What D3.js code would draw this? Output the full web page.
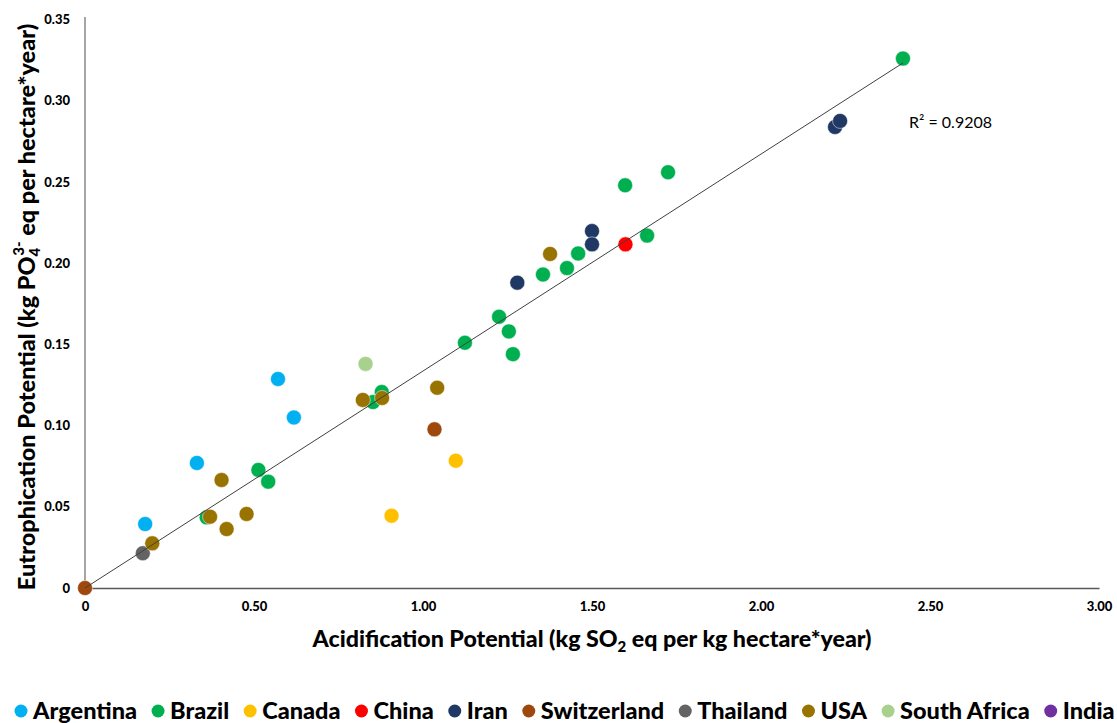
<!DOCTYPE html>
<html><head><meta charset="utf-8">
<script src="https://cdn.jsdelivr.net/npm/d3@7"></script>
<style>body{margin:0;background:#fff;}svg{display:block;}</style>
</head><body><svg id="c" width="1117" height="723"></svg>
<script>
const countries = ["Argentina","Brazil","Canada","China","Iran","Switzerland","Thailand","USA","South Africa","India"];
const colors = ["#00B0F0","#00B050","#FFC000","#FF0000","#203864","#9E480E","#636363","#997300","#A9D18E","#7030A0"];
const argentinaX = [0.178,0.331,0.571,0.618];
const argentinaY = [0.0394,0.077,0.1287,0.105];
const brazilX = [2.420,1.725,1.598,1.663,1.459,1.426,1.355,1.225,1.254,1.266,1.124,0.878,0.852,0.513,0.542,0.360];
const brazilY = [0.326,0.256,0.248,0.217,0.206,0.197,0.193,0.167,0.158,0.144,0.151,0.1207,0.1145,0.0727,0.0655,0.0435];
const canadaX = [1.097,0.907];
const canadaY = [0.0784,0.0445];
const chinaX = [1.599];
const chinaY = [0.2116];
const iranX = [1.500,1.500,1.279,2.219,2.234];
const iranY = [0.2198,0.2116,0.188,0.2839,0.2876];
const switzerlandX = [0,1.034];
const switzerlandY = [0,0.0977];
const thailandX = [0.171];
const thailandY = [0.0214];
const usaX = [0.822,0.879,0.370,0.404,0.478,0.419,0.199,1.042,1.376];
const usaY = [0.1158,0.117,0.0439,0.0665,0.0456,0.0363,0.0275,0.1233,0.2057];
const southAfricaX = [0.830];
const southAfricaY = [0.138];
const indiaX = [];
const indiaY = [];
const xTicks = [0,0.5,1,1.5,2,2.5,3];
const yTicks = [0,0.05,0.1,0.15,0.2,0.25,0.3,0.35];
const trendSlope = 0.1336;
const trendRange = [0, 2.42];
const r2Label = "R² = 0.9208";

const seriesX = [argentinaX,brazilX,canadaX,chinaX,iranX,switzerlandX,thailandX,usaX,southAfricaX,indiaX];
const seriesY = [argentinaY,brazilY,canadaY,chinaY,iranY,switzerlandY,thailandY,usaY,southAfricaY,indiaY];

const svg = d3.select("#c");
const x = d3.scaleLinear().domain([0,3]).range([85,1099]);
const y = d3.scaleLinear().domain([0,0.35]).range([588,19.6]);
const fmt = v => v===0 ? "0" : d3.format(".2f")(v);
const font = "Lato, 'Open Sans', sans-serif";

// y axis
const gy = svg.append("g").attr("transform","translate(85,0)")
  .call(d3.axisLeft(y).tickValues(yTicks).tickFormat(fmt).tickSize(0).tickPadding(15));
gy.select(".domain").attr("stroke","#898989").attr("stroke-width",1.5).attr("d","M0,17V588");
gy.selectAll("text").attr("font-family",font).attr("font-weight",900).attr("font-size",13).attr("fill","#000");

// x axis
const gx = svg.append("g").attr("transform","translate(0,588)")
  .call(d3.axisBottom(x).tickValues(xTicks).tickFormat(fmt).tickSize(0).tickPadding(14));
gx.select(".domain").attr("stroke","#595959").attr("stroke-width",1.5);
gx.selectAll("text").attr("font-family",font).attr("font-weight",900).attr("font-size",13).attr("fill","#000");

// points
countries.forEach((c,i)=>{
  const pts = seriesX[i].map((v,j)=>[v,seriesY[i][j]]);
  svg.append("g").selectAll("circle").data(pts).join("circle")
    .attr("cx",d=>x(d[0])).attr("cy",d=>y(d[1])).attr("r",7.5)
    .attr("fill",colors[i]).attr("stroke","#fff").attr("stroke-width",0.5);
});

// trendline
svg.append("line")
  .attr("x1",x(trendRange[0])).attr("y1",y(trendRange[0]*trendSlope))
  .attr("x2",x(trendRange[1])).attr("y2",y(trendRange[1]*trendSlope))
  .attr("stroke","#404040").attr("stroke-width",1);

svg.append("text").attr("x",909).attr("y",128).attr("font-family",font)
  .attr("font-size",16).attr("fill","#000").text(r2Label);

// x title
const xt = svg.append("text").attr("x",592).attr("y",647).attr("text-anchor","middle")
  .attr("font-family",font).attr("font-weight",900).attr("font-size",23.2).attr("fill","#000");
xt.append("tspan").text("Acidification Potential (kg SO");
xt.append("tspan").attr("font-size",15).attr("dy",5).text("2");
xt.append("tspan").attr("dy",-5).text(" eq per kg hectare*year)");

// y title
const yt = svg.append("text").attr("transform","translate(35,307) rotate(-90)").attr("text-anchor","middle")
  .attr("font-family",font).attr("font-weight",900).attr("font-size",23.5).attr("fill","#000");
yt.append("tspan").text("Eutrophication Potential (kg PO");
yt.append("tspan").attr("font-size",15).attr("dy",5).text("4");
yt.append("tspan").attr("font-size",15).attr("dy",-16).attr("dx",-8).text("3-");
yt.append("tspan").attr("dy",11).text(" eq per hectare*year)");

// legend
const lg = svg.append("g");
let cx = 21;
countries.forEach((c,i)=>{
  lg.append("circle").attr("cx",cx).attr("cy",711).attr("r",6.5).attr("fill",colors[i]);
  const t = lg.append("text").attr("x",cx+12).attr("y",719).attr("font-family",font)
    .attr("font-weight",900).attr("font-size",23.5).attr("fill","#000").text(c);
  cx += 12 + t.node().getComputedTextLength() + 21;
});
</script></body></html>
